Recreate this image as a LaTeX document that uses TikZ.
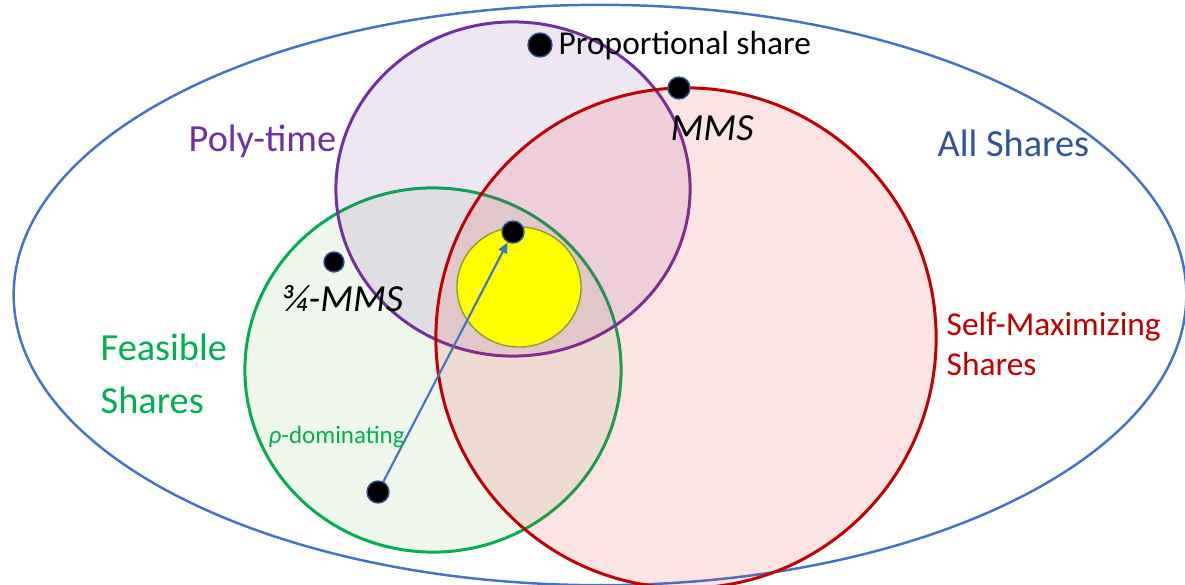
\documentclass[tikz,border=0pt]{standalone}
\usepackage{fontspec}
\setmainfont{Carlito}
\definecolor{allblue}{RGB}{68, 114, 196}
\definecolor{alltext}{RGB}{47, 85, 151}
\definecolor{polypurple}{RGB}{112, 48, 160}
\definecolor{feasgreen}{RGB}{0, 176, 80}
\definecolor{feasfill}{RGB}{95, 165, 65}
\definecolor{selfred}{RGB}{192, 0, 0}
\definecolor{selffill}{RGB}{238, 30, 30}
\definecolor{dotrim}{RGB}{47, 82, 143}
\definecolor{coreyellow}{RGB}{255, 255, 0}
\definecolor{yellowrim}{RGB}{140, 160, 40}
\usetikzlibrary{shapes.geometric, arrows.meta}

\tikzset{
  setshape/.style={ellipse, inner sep=0pt, line width=0.85pt},
  share/.style={circle, fill=black, draw=dotrim, line width=0.4pt, inner sep=0pt, minimum size=0.22cm},
  biglabel/.style={font=\fontsize{10.9}{13.3}\selectfont, inner sep=0pt, align=left, anchor=base west},
  smalllabel/.style={font=\fontsize{9.5}{11.3}\selectfont, inner sep=0pt, align=left, anchor=base west}
}

\begin{document}
\begin{tikzpicture}[x=0.01cm, y=-0.01cm]
  \useasboundingbox (0,0) rectangle (1185,585);
  \clip (0,0) rectangle (1185,585);

  % All shares
  \node[setshape, draw=allblue, line width=0.7pt, minimum width=11.72cm, minimum height=5.8cm] (allset) at (600,295) {};

  % Feasible, poly-time and self-maximizing sets
  \node[setshape, draw=feasgreen, fill=feasfill, fill opacity=0.1, minimum width=3.76cm, minimum height=3.64cm] (feasset) at (433,370) {};
  \node[setshape, draw=polypurple, fill=polypurple, fill opacity=0.12, minimum width=3.54cm, minimum height=3.34cm] (polyset) at (513,189) {};
  \node[setshape, draw=selfred, fill=selffill, fill opacity=0.12, minimum width=5.0cm, minimum height=5.0cm] (selfset) at (686,338) {};
  \node[setshape, draw=yellowrim, line width=0.4pt, fill=coreyellow, minimum width=1.24cm, minimum height=1.2cm] (coreset) at (519,287) {};

  % Shares
  \node[share, minimum size=0.24cm] (propdot) at (540,45) {};
  \node[share] (mmsdot) at (679,88) {};
  \node[share] (rhotgt) at (513,232) {};
  \node[share, minimum size=0.2cm] (threedot) at (334,262) {};
  \node[share] (rhosrc) at (378,492) {};
  \draw[allblue, line width=0.6pt, -{Triangle[length=3pt, width=2.6pt]}] (rhosrc) -- (rhotgt);

  % Labels
  \node[smalllabel] (proplabel) at (558,55) {Proportional share};
  \node[biglabel] (mmslabel) at (670,140) {\itshape MMS};
  \node[biglabel, text=polypurple] (polylabel) at (188,152) {Poly-time};
  \node[biglabel, text=alltext] (alllabel) at (937,157) {All Shares};
  \node[smalllabel, text=selfred] (selflabel) at (946,375) {Self-Maximizing\\Shares};
  \node[biglabel, text=feasgreen] (feaslabel) at (100,413) {Feasible\\[1.5pt]Shares};
  \node[biglabel] (threelabel) at (282,311) {\itshape ¾-MMS};
  \node[font=\fontsize{7.1}{8.5}\selectfont, text=feasgreen, inner sep=0pt, anchor=base west] (rholabel) at (268,443) {\textit{ρ}-dominating};
\end{tikzpicture}
\end{document}
